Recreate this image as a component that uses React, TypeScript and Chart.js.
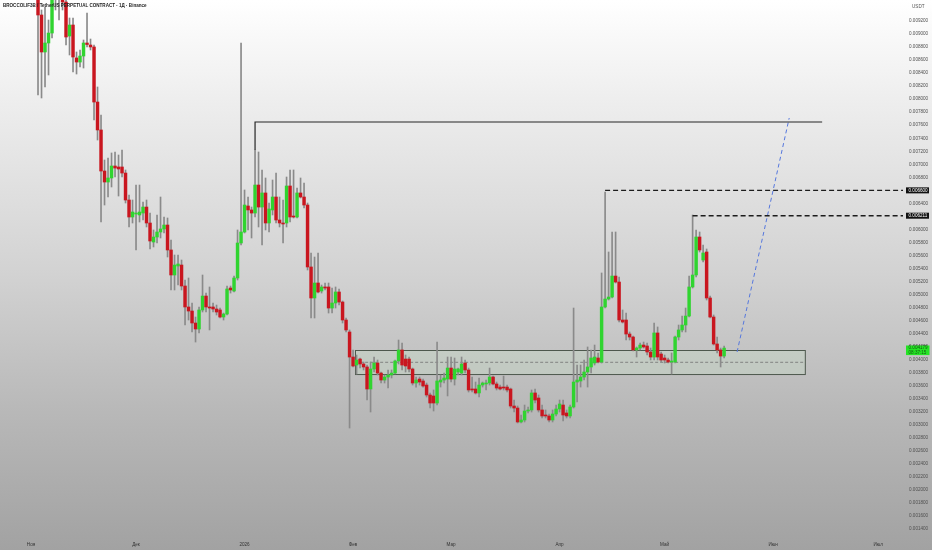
import React, { useEffect, useRef } from "react";
import { Chart, registerables } from "chart.js";

Chart.register(...registerables);

// Daily candles, BROCCOLIF3B/USDT perp. Day index counted from 1 Nov 2025 (day 0).
const firstDay = 2;

const opens = [
  0.009645, 0.009292, 0.008724, 0.008862, 0.009015, 0.009752, 0.009645, 0.009553, 0.009491, 0.008969,
  0.009138, 0.008632, 0.00857, 0.008662, 0.008862, 0.008831, 0.008801, 0.007956, 0.007527, 0.006897,
  0.006728, 0.00679, 0.006974, 0.006959, 0.006959, 0.006866, 0.006452, 0.006191, 0.006237, 0.006222,
  0.006252, 0.006344, 0.006099, 0.005807, 0.005884, 0.005961, 0.006007, 0.006068, 0.005685, 0.005301,
  0.005439, 0.005454, 0.005132, 0.00481, 0.004748, 0.004564, 0.004472, 0.004764, 0.004978, 0.00481,
  0.00481, 0.004779, 0.004764, 0.004656, 0.004702, 0.005101, 0.005055, 0.005255, 0.005792, 0.005961,
  0.00636, 0.006299, 0.006252, 0.006682, 0.006344, 0.00656, 0.006099, 0.006299, 0.006498, 0.006145,
  0.006099, 0.006099, 0.006667, 0.006206, 0.006191, 0.00656, 0.006498, 0.006375, 0.005424, 0.004948,
  0.005178, 0.005055, 0.005117, 0.005117, 0.004794, 0.004871, 0.00504, 0.004886, 0.00461, 0.004426,
  0.004042, 0.003919, 0.004011, 0.003935, 0.003889, 0.003551, 0.003858, 0.00395, 0.003796, 0.003689,
  0.003735, 0.003766, 0.003796, 0.003981, 0.00415, 0.004011, 0.004011, 0.003858, 0.003643, 0.003704,
  0.003674, 0.003612, 0.003459, 0.003444, 0.003336, 0.003658, 0.003689, 0.003704, 0.003873, 0.003704,
  0.003812, 0.003796, 0.00395, 0.003843, 0.003551, 0.003551, 0.00349, 0.003612, 0.003628, 0.003643,
  0.003735, 0.003628, 0.003581, 0.003581, 0.003581, 0.003551, 0.00329, 0.003259, 0.003045, 0.003075,
  0.003213, 0.003229, 0.00349, 0.003413, 0.003229, 0.003152, 0.003137, 0.003075, 0.003167, 0.003244,
  0.003305, 0.003183, 0.003137, 0.003275, 0.003658, 0.003674, 0.003735, 0.003812, 0.003889, 0.00395,
  0.004027, 0.003965, 0.00481, 0.004932, 0.004963, 0.005285, 0.005193, 0.00461, 0.00461, 0.004395,
  0.004349, 0.00415, 0.00418, 0.004226, 0.004211, 0.004119, 0.004042, 0.004411, 0.004088, 0.004027,
  0.003996, 0.003965, 0.003965, 0.004349, 0.004457, 0.004533, 0.004671, 0.005117, 0.005301, 0.005884,
  0.005531, 0.005654, 0.004948, 0.004656, 0.004242, 0.00415, 0.004057,
];

const highs = [
  0.009752, 0.009369, 0.009415, 0.009215, 0.009676, 0.009829, 0.009829, 0.009599, 0.009599, 0.009246,
  0.009246, 0.008724, 0.008755, 0.008908, 0.009322, 0.008923, 0.008831, 0.008187, 0.007757, 0.007066,
  0.007097, 0.007174, 0.007189, 0.007143, 0.00722, 0.006913, 0.006529, 0.006452, 0.006682, 0.006682,
  0.006421, 0.006452, 0.006252, 0.005992, 0.006222, 0.006498, 0.006191, 0.006176, 0.005838, 0.005608,
  0.005608, 0.005531, 0.005224, 0.005255, 0.004871, 0.004656, 0.00481, 0.005301, 0.005024, 0.005117,
  0.004871, 0.00484, 0.004794, 0.004717, 0.005132, 0.005132, 0.005285, 0.005992, 0.008862, 0.006606,
  0.006498, 0.006344, 0.00722, 0.007189, 0.006913, 0.00679, 0.006406, 0.006759, 0.006866, 0.006498,
  0.006452, 0.006805, 0.006913, 0.006913, 0.006636, 0.00679, 0.006713, 0.006406, 0.005639, 0.005577,
  0.005639, 0.005147, 0.005178, 0.005178, 0.005101, 0.005117, 0.005086, 0.004902, 0.004641, 0.004457,
  0.00415, 0.004073, 0.004027, 0.003965, 0.003919, 0.003965, 0.004042, 0.003996, 0.003812, 0.003766,
  0.003843, 0.003843, 0.003996, 0.004303, 0.004257, 0.004073, 0.004042, 0.003873, 0.003735, 0.003735,
  0.003704, 0.003643, 0.00349, 0.003536, 0.004272, 0.003766, 0.003796, 0.004042, 0.004042, 0.004027,
  0.003873, 0.004042, 0.003996, 0.003873, 0.003735, 0.003658, 0.00372, 0.003658, 0.003689, 0.003873,
  0.00375, 0.003658, 0.003612, 0.00375, 0.003612, 0.003566, 0.003382, 0.00329, 0.003152, 0.003305,
  0.003275, 0.003536, 0.003551, 0.003459, 0.003305, 0.003229, 0.003167, 0.003229, 0.003305, 0.003382,
  0.003382, 0.003229, 0.003305, 0.004794, 0.003919, 0.003919, 0.003996, 0.004196, 0.00415, 0.004226,
  0.004104, 0.005332, 0.006575, 0.005654, 0.005961, 0.005961, 0.00527, 0.004764, 0.004717, 0.004426,
  0.004364, 0.004196, 0.004257, 0.004272, 0.004257, 0.00418, 0.004564, 0.004503, 0.004119, 0.004073,
  0.004027, 0.004104, 0.004364, 0.004533, 0.004671, 0.004794, 0.005285, 0.006222, 0.005992, 0.005961,
  0.005761, 0.0057, 0.004978, 0.004687, 0.004349, 0.00418, 0.004211,
];

const lows = [
  0.008064, 0.008018, 0.008187, 0.008371, 0.008939, 0.009369, 0.009215, 0.009369, 0.008831, 0.008678,
  0.008417, 0.008386, 0.008494, 0.008478, 0.008801, 0.008755, 0.00768, 0.007373, 0.006114, 0.006375,
  0.006498, 0.006652, 0.006805, 0.006513, 0.006805, 0.006406, 0.006038, 0.006099, 0.005685, 0.006114,
  0.006145, 0.006038, 0.0057, 0.005731, 0.005792, 0.005869, 0.005946, 0.005577, 0.005071, 0.005071,
  0.005147, 0.005071, 0.004533, 0.00461, 0.004426, 0.004272, 0.004411, 0.004733, 0.004733, 0.004457,
  0.004733, 0.004687, 0.004641, 0.00461, 0.004687, 0.005024, 0.00504, 0.005224, 0.005761, 0.005946,
  0.005992, 0.005869, 0.006191, 0.006038, 0.005761, 0.005992, 0.005961, 0.006222, 0.006099, 0.006038,
  0.005792, 0.006038, 0.006114, 0.006176, 0.006176, 0.006483, 0.006329, 0.005378, 0.004641, 0.004641,
  0.005024, 0.005024, 0.005071, 0.004717, 0.004717, 0.004794, 0.00484, 0.004564, 0.004426, 0.002952,
  0.003889, 0.003781, 0.003873, 0.003843, 0.003382, 0.003198, 0.003812, 0.003766, 0.003643, 0.003643,
  0.003566, 0.00372, 0.003781, 0.003935, 0.003843, 0.003812, 0.003812, 0.003612, 0.003581, 0.003612,
  0.003581, 0.003428, 0.003259, 0.003213, 0.003305, 0.003581, 0.003643, 0.003444, 0.003658, 0.003612,
  0.003766, 0.003766, 0.003796, 0.003505, 0.003505, 0.003474, 0.003428, 0.003581, 0.003536, 0.003612,
  0.003612, 0.003536, 0.003536, 0.003536, 0.003505, 0.003259, 0.003198, 0.003029, 0.003029, 0.003045,
  0.003183, 0.003198, 0.003336, 0.003198, 0.003106, 0.003106, 0.003045, 0.003045, 0.003137, 0.003198,
  0.00306, 0.003106, 0.003106, 0.003259, 0.003351, 0.003581, 0.003689, 0.003581, 0.003796, 0.003919,
  0.00395, 0.00395, 0.004794, 0.004917, 0.004948, 0.005178, 0.004579, 0.004564, 0.004303, 0.004303,
  0.004134, 0.004042, 0.00415, 0.00418, 0.004073, 0.003996, 0.003996, 0.003996, 0.003965, 0.00395,
  0.00395, 0.003781, 0.00395, 0.004303, 0.004426, 0.004426, 0.004656, 0.005101, 0.00527, 0.005654,
  0.0055, 0.004917, 0.004641, 0.004226, 0.004104, 0.003889, 0.004027,
];

const closes = [
  0.009292, 0.008724, 0.008862, 0.009015, 0.009599, 0.009599, 0.009553, 0.009491, 0.008954, 0.009138,
  0.008647, 0.00857, 0.008662, 0.008862, 0.008839, 0.008801, 0.007956, 0.007527, 0.006897, 0.006728,
  0.00679, 0.006974, 0.006943, 0.006928, 0.006866, 0.006452, 0.006191, 0.006268, 0.006252, 0.006268,
  0.006344, 0.006099, 0.005823, 0.005884, 0.005961, 0.006007, 0.006068, 0.005685, 0.005301, 0.005454,
  0.00547, 0.005132, 0.00481, 0.004748, 0.004564, 0.004472, 0.004764, 0.004978, 0.00481, 0.004794,
  0.004779, 0.004733, 0.004656, 0.004702, 0.005086, 0.005071, 0.005255, 0.005792, 0.005961, 0.006375,
  0.006299, 0.006252, 0.006682, 0.006344, 0.00656, 0.006099, 0.006314, 0.006498, 0.006145, 0.006099,
  0.006084, 0.006667, 0.006191, 0.006191, 0.00656, 0.006498, 0.006375, 0.005424, 0.004948, 0.005178,
  0.00504, 0.005117, 0.005101, 0.004794, 0.004871, 0.00504, 0.004886, 0.00461, 0.004457, 0.004042,
  0.003904, 0.003996, 0.003935, 0.003889, 0.003551, 0.003858, 0.00395, 0.003796, 0.003689, 0.003735,
  0.003766, 0.003796, 0.003981, 0.00415, 0.003919, 0.003904, 0.003858, 0.003643, 0.003689, 0.003658,
  0.003597, 0.003459, 0.003336, 0.003336, 0.003674, 0.003689, 0.00372, 0.003873, 0.003704, 0.003858,
  0.003858, 0.003935, 0.003843, 0.003536, 0.003536, 0.00349, 0.003612, 0.003643, 0.003643, 0.003735,
  0.003628, 0.003566, 0.003551, 0.003566, 0.003536, 0.00329, 0.003259, 0.003045, 0.003075, 0.003213,
  0.003229, 0.00349, 0.003382, 0.003229, 0.003137, 0.003137, 0.003075, 0.003167, 0.003244, 0.003321,
  0.003152, 0.003137, 0.003275, 0.003658, 0.003689, 0.003735, 0.003812, 0.003889, 0.004027, 0.004042,
  0.003965, 0.00481, 0.004932, 0.004963, 0.005285, 0.005193, 0.00461, 0.004579, 0.004395, 0.004349,
  0.00415, 0.00418, 0.004226, 0.004196, 0.004119, 0.004042, 0.004411, 0.004042, 0.003996, 0.003996,
  0.003965, 0.003981, 0.004349, 0.004457, 0.004533, 0.004671, 0.005117, 0.005301, 0.005884, 0.005685,
  0.005639, 0.004948, 0.004656, 0.004242, 0.00415, 0.004057, 0.004179,
];

// X axis: month starts (days since 1 Nov 2025) and their labels
const monthDays = [0, 30, 61, 92, 120, 151, 181, 212, 242];
const monthLabels = ["Ноя", "Дек", "2026", "Фев", "Мар", "Апр", "Май", "Июн", "Июл"];

// Y axis tick values
const priceTicks = [
  0.0014, 0.0016, 0.0018, 0.002, 0.0022, 0.0024, 0.0026, 0.0028, 0.003, 0.0032,
  0.0034, 0.0036, 0.0038, 0.004, 0.0042, 0.0044, 0.0046, 0.0048, 0.005, 0.0052,
  0.0054, 0.0056, 0.0058, 0.006, 0.0062, 0.0064, 0.0066, 0.0068, 0.007, 0.0072,
  0.0074, 0.0076, 0.0078, 0.008, 0.0082, 0.0084, 0.0086, 0.0088, 0.009, 0.0092,
];

const xRange = [-8.86, 249.1];
const yRange = [0.001264, 0.009522];

// Drawings
const resistancePrice = 0.007649;
const resistanceDays = [64, 226];
const resistanceWickTop = 0.00722;
const levelPrices = [0.0066, 0.006211];
const levelStartDays = [164, 189];
const zoneDays = [92.6, 221.1];
const zonePrices = [0.00415, 0.003781, 0.003961]; // top, bottom, middle
const projectionDays = [201.7, 216.6];
const projectionPrices = [0.004119, 0.007711];
const lastPrice = 0.004179;
const countdown = "08:37:15";

const FONT = "'Liberation Sans', Arial, sans-serif";

function zeroPadding(s: any) {
  s.paddingTop = 0;
  s.paddingBottom = 0;
  s.paddingLeft = 0;
  s.paddingRight = 0;
}

export default function App() {
  const ref = useRef<HTMLCanvasElement>(null);

  useEffect(() => {
    const days = opens.map((_, i) => firstDay + i);
    const bodyData = days.map((d, i) => ({ x: d, y: [opens[i], closes[i]] }));
    const wickData = days.map((d, i) => ({ x: d, y: [lows[i], highs[i]] }));
    const bodyColors = opens.map((o, i) => (closes[i] >= o ? "#30d430" : "#c9161f"));

    const overlay = {
      id: "overlay",
      beforeDatasetsDraw(chart: any) {
        const { ctx, scales } = chart;
        const x = scales.x;
        const y = scales.y;
        const x1 = x.getPixelForValue(zoneDays[0]);
        const x2 = x.getPixelForValue(zoneDays[1]);
        const y1 = y.getPixelForValue(zonePrices[0]);
        const y2 = y.getPixelForValue(zonePrices[1]);
        const ym = y.getPixelForValue(zonePrices[2]);
        ctx.save();
        ctx.fillStyle = "rgba(200, 235, 200, 0.22)";
        ctx.fillRect(x1, y1, x2 - x1, y2 - y1);
        ctx.strokeStyle = "#4d584d";
        ctx.lineWidth = 1;
        ctx.strokeRect(Math.round(x1) + 0.5, Math.round(y1) + 0.5, x2 - x1, y2 - y1);
        ctx.setLineDash([3, 2]);
        ctx.strokeStyle = "#6f6f6f";
        ctx.lineWidth = 0.8;
        ctx.beginPath();
        ctx.moveTo(x1, ym);
        ctx.lineTo(x2, ym);
        ctx.stroke();
        ctx.restore();
      },
      afterDraw(chart: any) {
        const { ctx, chartArea, scales } = chart;
        const y = scales.y;
        const left = chartArea.right + 3;
        ctx.save();
        ctx.font = `4.6px ${FONT}`;
        ctx.textBaseline = "middle";
        ctx.textAlign = "left";
        levelPrices.forEach((p) => {
          const yy = y.getPixelForValue(p);
          ctx.fillStyle = "#111111";
          ctx.fillRect(left, yy - 3, 23, 6);
          ctx.fillStyle = "#ffffff";
          ctx.fillText(p.toFixed(6), left + 2.5, yy + 0.2);
        });
        const yp = y.getPixelForValue(lastPrice);
        ctx.fillStyle = "#25e425";
        ctx.fillRect(left, yp - 2.6, 23.5, 9.6);
        ctx.fillStyle = "#145c14";
        ctx.fillText(lastPrice.toFixed(6), left + 2.5, yp);
        ctx.fillText(countdown, left + 2.5, yp + 4.4);
        ctx.restore();
      },
    };

    const chart = new Chart(ref.current as HTMLCanvasElement, {
      type: "bar",
      data: {
        datasets: [
          {
            type: "bar",
            data: wickData as any,
            backgroundColor: "#8a8a8a",
            barThickness: 1,
            grouped: false,
            order: 3,
          },
          {
            type: "bar",
            data: bodyData as any,
            backgroundColor: bodyColors,
            barThickness: 2.8,
            minBarLength: 1,
            grouped: false,
            order: 2,
          },
          {
            type: "line",
            data: [
              { x: resistanceDays[0], y: resistanceWickTop },
              { x: resistanceDays[0], y: resistancePrice },
              { x: resistanceDays[1], y: resistancePrice },
            ] as any,
            borderColor: "#262626",
            borderWidth: 1.2,
            pointRadius: 0,
            order: 1,
          },
          ...levelPrices.map((p, i) => ({
            type: "line" as const,
            data: [
              { x: levelStartDays[i], y: p },
              { x: xRange[1], y: p },
            ] as any,
            borderColor: "#1c1c1c",
            borderWidth: 1.4,
            borderDash: [5, 3],
            pointRadius: 0,
            order: 1,
          })),
          {
            type: "line",
            data: [
              { x: projectionDays[0], y: projectionPrices[0] },
              { x: projectionDays[1], y: projectionPrices[1] },
            ] as any,
            borderColor: "#5577dd",
            borderWidth: 1,
            borderDash: [4, 3],
            pointRadius: 0,
            order: 1,
          },
        ],
      },
      options: {
        animation: false,
        responsive: true,
        maintainAspectRatio: false,
        layout: { padding: 0 },
        plugins: { legend: { display: false }, tooltip: { enabled: false } },
        events: [],
        scales: {
          x: {
            type: "linear",
            offset: false,
            min: xRange[0],
            max: xRange[1],
            grid: { display: false, drawTicks: false },
            border: { display: false },
            afterBuildTicks: (s: any) => {
              s.ticks = monthDays.map((v) => ({ value: v }));
            },
            afterFit: (s: any) => {
              s.height = 12;
              zeroPadding(s);
            },
            ticks: {
              autoSkip: false,
              maxRotation: 0,
              padding: 4,
              color: "#333333",
              font: { size: 4.6, family: FONT },
              callback: (_v: any, i: number) => monthLabels[i],
            },
          },
          y: {
            type: "linear",
            position: "right",
            min: yRange[0],
            max: yRange[1],
            beginAtZero: false,
            grid: { display: false, drawTicks: false },
            border: { display: false },
            afterBuildTicks: (s: any) => {
              s.ticks = priceTicks.map((v) => ({ value: v }));
            },
            afterFit: (s: any) => {
              s.width = 29;
              zeroPadding(s);
            },
            ticks: {
              autoSkip: false,
              padding: 6,
              color: "#505050",
              font: { size: 4.6, family: FONT },
              callback: (v: any) => Number(v).toFixed(6),
            },
          },
        },
      },
      plugins: [overlay],
    });
    return () => chart.destroy();
  }, []);

  return (
    <div
      style={{
        position: "fixed",
        left: 0,
        top: 0,
        width: 932,
        height: 550,
        background: "linear-gradient(180deg, #ffffff 0%, #eeeeee 18%, #d2d2d2 50%, #b8b8b8 75%, #a2a2a2 100%)",
        overflow: "hidden",
      }}
    >
      <canvas ref={ref} style={{ position: "absolute", left: 0, top: 0 }} />
      <div
        style={{
          position: "absolute",
          left: 3,
          top: 3,
          font: `600 4.55px ${FONT}`,
          color: "#1e1e1e",
          whiteSpace: "nowrap",
          pointerEvents: "none",
        }}
      >
        BROCCOLIF3B / TetherUS PERPETUAL CONTRACT · 1Д · Binance
      </div>
      <div
        style={{
          position: "absolute",
          left: 912,
          top: 4,
          font: `4.6px ${FONT}`,
          color: "#555555",
          pointerEvents: "none",
        }}
      >
        USDT
      </div>
    </div>
  );
}
